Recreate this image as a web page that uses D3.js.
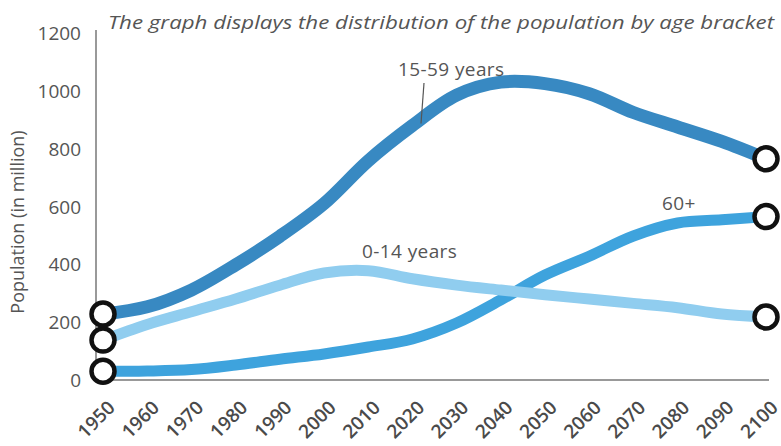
<!DOCTYPE html>
<html>
<head>
<meta charset="utf-8">
<script src="https://cdn.jsdelivr.net/npm/d3@7/dist/d3.min.js"></script>
<style>
  html, body { margin: 0; padding: 0; background: #fff; }
  svg { display: block; font-family: "Open Sans", "Noto Sans", sans-serif; }
</style>
</head>
<body>
<svg id="chart" width="781" height="446"></svg>
<script>
// Population by age bracket, in millions, 1950–2100
const years = [1950, 1960, 1970, 1980, 1990, 2000, 2010, 2020, 2030, 2040, 2050, 2060, 2070, 2080, 2090, 2100];
const working = [228, 253, 311, 398, 497, 610, 758, 880, 985, 1030, 1025, 990, 925, 875, 825, 765];
const children = [138, 192, 236, 280, 328, 370, 378, 350, 328, 311, 295, 280, 265, 250, 228, 218];
const elderly = [30, 31, 36, 52, 72, 90, 114, 142, 197, 277, 363, 428, 498, 543, 554, 565];
const yTicks = [0, 200, 400, 600, 800, 1000, 1200];

const seriesNames = ["0-14 years", "15-59 years", "60+"];
const seriesColors = ["#90cdef", "#3889c2", "#3ea3dd"];

const svg = d3.select("#chart");
const axisLeftX = 96, axisRightX = 769, baseY = 380;

const x = d3.scaleLinear().domain([1950, 2100]).range([103, 766]);
const y = d3.scaleLinear().domain([0, 1200]).range([baseY, 33]);

// axes
const yAxis = d3.axisLeft(y).tickValues(yTicks).tickFormat(d3.format("d")).tickSize(0).tickPadding(15);
const gy = svg.append("g").attr("transform", `translate(${axisLeftX},0)`).call(yAxis);
gy.select(".domain").attr("stroke", "#777").attr("stroke-width", 1.5).attr("d", `M0,${baseY}V30`);
gy.selectAll("text").attr("fill", "#555").attr("font-size", 19).attr("dy", "0.35em")
  .attr("font-family", "'Open Sans', sans-serif");

const xAxis = d3.axisBottom(x).tickValues(years).tickFormat(d3.format("d")).tickSize(0).tickPadding(0);
const gx = svg.append("g").attr("transform", `translate(0,${baseY})`).call(xAxis);
gx.select(".domain").attr("stroke", "#777").attr("stroke-width", 1.5).attr("d", `M${axisLeftX},0H${axisRightX}`);
gx.selectAll("text")
  .attr("fill", "#4a4a4a").attr("font-size", 19).attr("font-weight", 600)
  .attr("font-family", "'Open Sans', sans-serif")
  .attr("text-anchor", "end")
  .attr("dy", "0.35em")
  .attr("transform", "translate(8,24) rotate(-45)");

// y axis title
svg.append("text")
  .attr("transform", "translate(24,222) rotate(-90)")
  .attr("text-anchor", "middle")
  .attr("fill", "#555").attr("font-size", 18)
  .text("Population (in million)");

// chart title
svg.append("text")
  .attr("x", 108).attr("y", 29)
  .attr("fill", "#555").attr("font-size", 18).attr("font-style", "italic")
  .attr("textLength", 666).attr("lengthAdjust", "spacingAndGlyphs")
  .text("The graph displays the distribution of the population by age bracket");

// lines
const line = d3.line().x((d, i) => x(years[i])).y(d => y(d)).curve(d3.curveCatmullRom.alpha(0.5));
const data = [children, working, elderly];
const widths = [11, 13, 11];
[2, 0, 1].forEach(k => {
  svg.append("path")
    .datum(data[k])
    .attr("fill", "none")
    .attr("stroke", seriesColors[k])
    .attr("stroke-width", widths[k])
    .attr("stroke-linecap", "butt")
    .attr("stroke-linejoin", "round")
    .attr("d", line);
});

// series labels
const lab = (t, lx, ly) => svg.append("text").attr("x", lx).attr("y", ly)
  .attr("fill", "#555").attr("font-size", 19).attr("letter-spacing", 0.4).text(t);
lab(seriesNames[1], 398, 76);
svg.append("line").attr("x1", 424).attr("y1", 83).attr("x2", 421).attr("y2", y(working[7]) - 2)
  .attr("stroke", "#555").attr("stroke-width", 1.2);
lab(seriesNames[0], 362, 258);
lab(seriesNames[2], 662, 210);

// end markers
const ends = [];
data.forEach(s => {
  ends.push([years[0], s[0]]);
  ends.push([years[years.length - 1], s[s.length - 1]]);
});
svg.selectAll("circle.end").data(ends).enter().append("circle")
  .attr("class", "end")
  .attr("cx", d => x(d[0])).attr("cy", d => y(d[1]))
  .attr("r", 11.5)
  .attr("fill", "#fff").attr("stroke", "#111").attr("stroke-width", 4.5);
</script>
</body>
</html>
